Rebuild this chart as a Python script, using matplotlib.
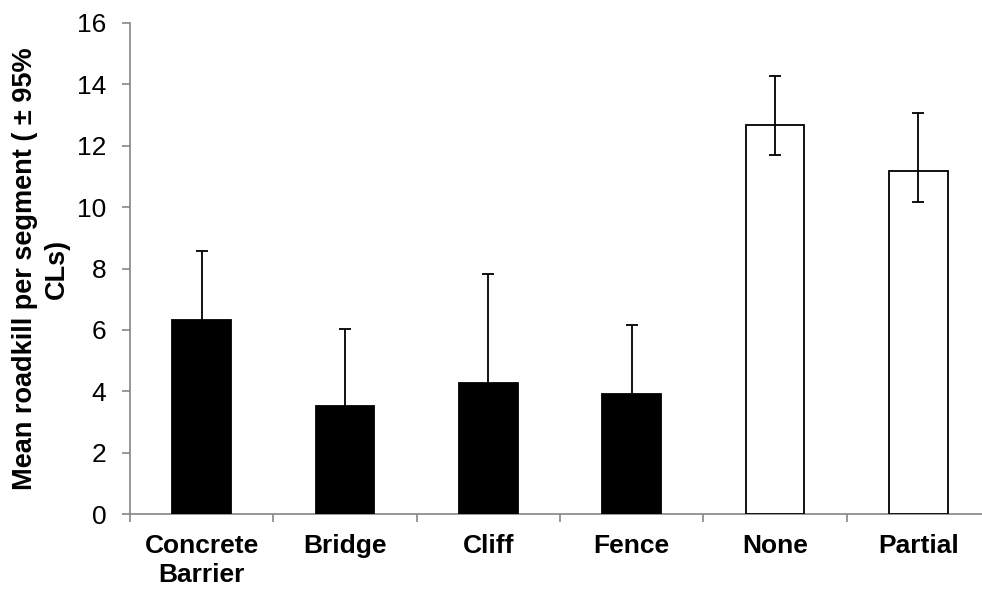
import numpy as np
import matplotlib.pyplot as plt

plt.rcParams['font.family'] = ['Liberation Sans', 'DejaVu Sans']

# Data
categories = ['Concrete\nBarrier', 'Bridge', 'Cliff', 'Fence', 'None', 'Partial']
means = [6.32, 3.53, 4.27, 3.92, 12.67, 11.16]
ci_upper = [8.57, 6.03, 7.83, 6.17, 14.27, 13.06]
ci_lower = [4.3, 1.5, 1.6, 1.9, 11.68, 10.17]
fills = ['black', 'black', 'black', 'black', 'white', 'white']

means = np.array(means)
err = [means - np.array(ci_lower), np.array(ci_upper) - means]
x = np.arange(len(categories))

fig = plt.figure(figsize=(9.82, 5.89), dpi=100)
ax = fig.add_axes([130 / 982, 74.7 / 589, 860 / 982, 491.6 / 589])

ax.bar(x, means, width=0.41, color=fills, edgecolor='black', linewidth=1.3, zorder=2)
ax.errorbar(x, means, yerr=err, fmt='none', ecolor='black', elinewidth=1.3,
            capsize=4.3, capthick=1.3, zorder=3)

ax.set_xlim(-0.5, len(categories) - 0.5)
ax.set_ylim(0, 16)
ax.set_yticks(np.arange(0, 17, 2))

# category labels at centres, tick marks at boundaries
ax.set_xticks(x)
ax.set_xticklabels(categories, fontsize=19, fontweight='bold', linespacing=1.3)
ax.tick_params(axis='x', length=0, pad=14)
ax.set_xticks(np.arange(-0.5, len(categories), 1), minor=True)
ax.tick_params(axis='x', which='minor', length=6, color='#868686', width=1.2)
ax.tick_params(axis='y', labelsize=19, length=6, color='#868686', width=1.2, pad=11)

for side in ['top', 'right']:
    ax.spines[side].set_visible(False)
for side in ['left', 'bottom']:
    ax.spines[side].set_color('#868686')
    ax.spines[side].set_linewidth(1.2)
ax.spines['bottom'].set_zorder(1)

ax.set_ylabel('Mean roadkill per segment ( ± 95%\nCLs)', fontsize=19.5,
              fontweight='bold', labelpad=5, linespacing=1.3)

fig.savefig('out.png', dpi=100)
